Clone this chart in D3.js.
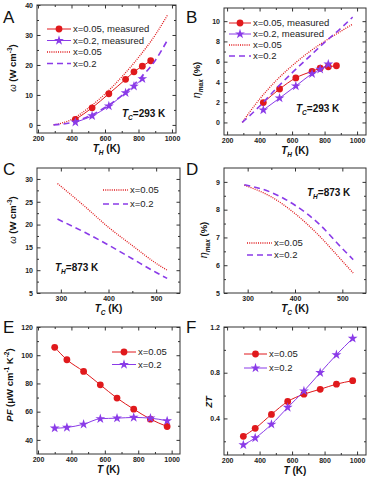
<!DOCTYPE html>
<html>
<head>
<meta charset="utf-8">
<script src="https://cdnjs.cloudflare.com/ajax/libs/d3/7.8.5/d3.min.js"></script>
<style>
  body { margin: 0; background: #fff; }
  svg { font-family: Arial, "Liberation Sans", sans-serif; }
  .tick text { font-weight: bold; font-size: 7px; fill: #222; }
</style>
</head>
<body>
<svg id="chart" width="368" height="477"></svg>
<script>
// ---- data ----
// A: power density vs hot side temp
const thMeas05 = [423, 523, 623, 723, 773, 823, 873];
const omegaMeas05 = [1.8, 5.7, 10.4, 15.2, 17.7, 19.6, 21.4];
const thMeas02 = [423, 523, 623, 723, 773, 823];
const omegaMeas02 = [0.9, 3.0, 6.3, 10.7, 12.9, 15.4];
const thCalc = [293, 400, 500, 600, 700, 800, 900, 973];
const omegaCalc05 = [0, 1.8, 5.6, 10.3, 16.0, 22.5, 30.0, 36.6];
const omegaCalc02 = [0, 0.8, 2.8, 5.8, 9.8, 15.0, 21.5, 28.3];
// B: efficiency vs hot side temp
const etaMeas05 = [1.96, 3.3, 4.4, 5.05, 5.35, 5.5, 5.6];
const etaMeas02 = [1.23, 2.4, 3.6, 4.8, 5.25, 5.75];
const etaCalc05 = [0, 2.3, 4.1, 5.6, 6.9, 8.0, 9.0, 9.7];
const etaCalc02 = [0, 1.6, 3.3, 4.9, 6.4, 7.9, 9.3, 10.4];
// C, D: vs cold side temp (TH = 873 K)
const tcCalc = [293, 350, 400, 450, 500, 523];
const omegaTc05 = [29, 24, 19.4, 15.4, 11.5, 10];
const omegaTc02 = [21.2, 18.3, 15.5, 12.5, 9.5, 8.2];
const etaTc05 = [8.88, 8.46, 7.86, 7.08, 6.15, 5.72];
const etaTc02 = [8.9, 8.62, 8.16, 7.5, 6.6, 6.2];
// E, F: PF and ZT vs T
const tProp = [300, 373, 473, 573, 673, 773, 873, 973];
const pf05 = [105.6, 96.8, 88.5, 79, 69.6, 61.8, 54.7, 49.5];
const pf02 = [48.3, 48.8, 51.1, 55, 55.4, 55.9, 55.4, 53.5];
const zt05 = [0.243, 0.313, 0.435, 0.548, 0.612, 0.655, 0.70, 0.73];
const zt02 = [0.168, 0.229, 0.348, 0.496, 0.64, 0.80, 0.957, 1.10];

const RED = "#e0191c";
const PURPLE = "#8a3be8";
const svg = d3.select("#chart");
const star = d3.symbol().type(d3.symbolStar).size(30);

function panel(o) {
  const g = svg.append("g");
  const x = d3.scaleLinear().domain(o.xd).range([o.l, o.r]);
  const y = d3.scaleLinear().domain(o.yd).range([o.b, o.t]);
  const fmtX = d3.format("d");
  const fmtY = o.yfmt || d3.format("d");

  // minor + major ticks inward on all sides
  const axes = [
    [d3.axisBottom, x, o.b, fmtX, o.xt, o.xm, true],
    [d3.axisTop, x, o.t, null, o.xt, o.xm, true],
    [d3.axisLeft, y, o.l, fmtY, o.yt, o.ym, false],
    [d3.axisRight, y, o.r, null, o.yt, o.ym, false]
  ];
  axes.forEach(([fn, sc, pos, fmt, major, minor, horiz]) => {
    const tr = horiz ? `translate(0,${pos})` : `translate(${pos},0)`;
    g.append("g").attr("transform", tr)
      .call(fn(sc).tickValues(minor).tickSize(-2).tickFormat(""))
      .call(a => a.select(".domain").remove());
    const ax = g.append("g").attr("transform", tr)
      .call(fn(sc).tickValues(major).tickSize(-3.5).tickPadding(horiz ? 3 : 4)
        .tickFormat(fmt || ""));
    ax.select(".domain").remove();
  });
  g.selectAll(".tick line").attr("stroke", "#333");
  g.append("rect").attr("x", o.l).attr("y", o.t)
    .attr("width", o.r - o.l).attr("height", o.b - o.t)
    .attr("fill", "none").attr("stroke", "#333").attr("stroke-width", 1);

  const line = d3.line().curve(d3.curveMonotoneX);
  o.series.forEach(s => {
    const pts = s.xs.map((v, i) => [x(v), y(s.ys[i])]);
    const p = g.append("path").attr("d", line(pts)).attr("fill", "none")
      .attr("stroke", s.color);
    if (s.style === "dot") p.attr("stroke-width", 1.3).attr("stroke-dasharray", "1,1.2");
    else if (s.style === "dash") p.attr("stroke-width", 1.6).attr("stroke-dasharray", "6,4");
    else p.attr("stroke-width", 1);
    if (s.marker === "circle") {
      g.selectAll(null).data(pts).join("circle")
        .attr("cx", d => d[0]).attr("cy", d => d[1]).attr("r", 3.4).attr("fill", s.color);
    } else if (s.marker === "star") {
      g.selectAll(null).data(pts).join("path").attr("d", star)
        .attr("transform", d => `translate(${d[0]},${d[1]})`).attr("fill", s.color);
    }
  });

  // legend
  o.legend.forEach((e, i) => {
    const ly = o.leg.y + i * o.leg.dy;
    const s = o.series[e.idx];
    const ln = g.append("line").attr("x1", o.leg.x).attr("x2", o.leg.x + o.leg.w)
      .attr("y1", ly).attr("y2", ly).attr("stroke", s.color);
    if (s.style === "dot") ln.attr("stroke-width", 1.3).attr("stroke-dasharray", "1,1.2");
    else if (s.style === "dash") ln.attr("stroke-width", 1.6).attr("stroke-dasharray", "6,4");
    const mx = o.leg.x + o.leg.w / 2;
    if (s.marker === "circle") g.append("circle").attr("cx", mx).attr("cy", ly).attr("r", 3.4).attr("fill", s.color);
    if (s.marker === "star") g.append("path").attr("d", star).attr("transform", `translate(${mx},${ly})`).attr("fill", s.color);
    g.append("text").attr("x", o.leg.x + o.leg.w + 2).attr("y", ly + 3.3)
      .attr("font-size", 9.5).attr("fill", "#222").text(e.label);
  });

  // panel letter
  g.append("text").attr("x", o.letter[0]).attr("y", o.letter[1])
    .attr("font-size", 17).attr("fill", "#111").text(o.name);

  // axis titles
  const xt = g.append("text").attr("x", (o.l + o.r) / 2).attr("y", o.b + 19)
    .attr("text-anchor", "middle").attr("font-size", 10).attr("font-weight", "bold").attr("fill", "#111");
  o.xlab(xt);
  const yt = g.append("text")
    .attr("transform", `translate(${o.ylx},${o.yly}) rotate(-90)`)
    .attr("text-anchor", "middle").attr("font-size", 9.5).attr("font-weight", "bold").attr("fill", "#111");
  o.ylab(yt);

  if (o.note) {
    const nt = g.append("text").attr("x", o.note[0]).attr("y", o.note[1])
      .attr("font-size", 10).attr("font-weight", "bold").attr("fill", "#111");
    nt.append("tspan").attr("font-style", "italic").text("T");
    nt.append("tspan").attr("font-size", 6.5).attr("font-style", "italic").attr("dy", 2.5).text(o.note[2]);
    nt.append("tspan").attr("dy", -2.5).text("=" + o.note[3]);
  }
}

function tLabel(sub) {
  return t => {
    t.append("tspan").attr("font-style", "italic").text("T");
    if (sub) t.append("tspan").attr("font-style", "italic").attr("font-size", 6.5).attr("dy", 2.5).text(sub);
    t.append("tspan").attr("dy", sub ? -2.5 : 0).text(" (K)");
  };
}
function omegaLabel(t) {
  t.append("tspan").attr("font-style", "italic").attr("font-weight", "normal").text("ω");
  t.append("tspan").text(" (W cm");
  t.append("tspan").attr("font-size", 6.5).attr("dy", -4).text("-3");
  t.append("tspan").attr("dy", 4).text(")");
}
function etaLabel(t) {
  t.append("tspan").attr("font-style", "italic").attr("font-weight", "normal").attr("font-size", 11).text("η");
  t.append("tspan").attr("font-style", "italic").attr("font-size", 6.5).attr("dy", 2.5).text("max");
  t.append("tspan").attr("dy", -2.5).text(" (%)");
}
function pfLabel(t) {
  t.append("tspan").attr("font-style", "italic").text("PF");
  t.append("tspan").text(" (μW cm");
  t.append("tspan").attr("font-size", 6.5).attr("dy", -4).text("-1");
  t.append("tspan").attr("dy", 4).text(" K");
  t.append("tspan").attr("font-size", 6.5).attr("dy", -4).text("-2");
  t.append("tspan").attr("dy", 4).text(")");
}

const txMajor = [200, 400, 600, 800, 1000];
const txMinor = [300, 500, 700, 900];
const legA = [
  { idx: 0, label: "x=0.05, measured" },
  { idx: 1, label: "x=0.2, measured" },
  { idx: 2, label: "x=0.05" },
  { idx: 3, label: "x=0.2" }
];

panel({
  name: "A", letter: [3, 23], l: 37, r: 176, t: 5, b: 133,
  xd: [194, 1024], yd: [-2.7, 40], xt: txMajor, xm: txMinor,
  yt: [0, 10, 20, 30, 40], ym: [5, 15, 25, 35],
  series: [
    { xs: thMeas05, ys: omegaMeas05, color: RED, marker: "circle" },
    { xs: thMeas02, ys: omegaMeas02, color: PURPLE, marker: "star" },
    { xs: thCalc, ys: omegaCalc05, color: RED, style: "dot" },
    { xs: thCalc, ys: omegaCalc02, color: PURPLE, style: "dash" }
  ],
  legend: legA, leg: { x: 47, y: 29, dy: 11.5, w: 24 },
  xlab: tLabel("H"), ylab: omegaLabel, ylx: 16, yly: 68,
  note: [122, 117, "C", "293 K"]
});

panel({
  name: "B", letter: [186, 23], l: 224, r: 366, t: 8, b: 135,
  xd: [181, 1055], yd: [-1.24, 11.3], xt: txMajor, xm: txMinor,
  yt: [0, 2, 4, 6, 8, 10], ym: [1, 3, 5, 7, 9],
  series: [
    { xs: thMeas05, ys: etaMeas05, color: RED, marker: "circle" },
    { xs: thMeas02, ys: etaMeas02, color: PURPLE, marker: "star" },
    { xs: thCalc, ys: etaCalc05, color: RED, style: "dot" },
    { xs: thCalc, ys: etaCalc02, color: PURPLE, style: "dash" }
  ],
  legend: legA, leg: { x: 229, y: 23, dy: 11, w: 22 },
  xlab: tLabel("H"), ylab: etaLabel, ylx: 200, yly: 80,
  note: [296, 112, "C", "293 K"]
});

const legCD = [{ idx: 0, label: "x=0.05" }, { idx: 1, label: "x=0.2" }];

panel({
  name: "C", letter: [3, 175], l: 37, r: 180, t: 168, b: 293,
  xd: [250, 550], yd: [5, 32.4], xt: [300, 400, 500], xm: [350, 450],
  yt: [5, 10, 15, 20, 25, 30], ym: [7.5, 12.5, 17.5, 22.5, 27.5],
  series: [
    { xs: tcCalc, ys: omegaTc05, color: RED, style: "dot" },
    { xs: tcCalc, ys: omegaTc02, color: PURPLE, style: "dash" }
  ],
  legend: legCD, leg: { x: 103, y: 190, dy: 14, w: 25 },
  xlab: tLabel("C"), ylab: omegaLabel, ylx: 16, yly: 220,
  note: [55, 271, "H", "873 K"]
});

panel({
  name: "D", letter: [186, 175], l: 224, r: 366, t: 168, b: 293,
  xd: [250, 550], yd: [5, 9.5], xt: [300, 400, 500], xm: [350, 450],
  yt: [5, 6, 7, 8, 9], ym: [5.5, 6.5, 7.5, 8.5],
  series: [
    { xs: tcCalc, ys: etaTc05, color: RED, style: "dot" },
    { xs: tcCalc, ys: etaTc02, color: PURPLE, style: "dash" }
  ],
  legend: legCD, leg: { x: 247, y: 243, dy: 12, w: 25 },
  xlab: tLabel("C"), ylab: etaLabel, ylx: 207, yly: 240,
  note: [307, 196, "H", "873 K"]
});

panel({
  name: "E", letter: [3, 333], l: 37, r: 180, t: 327, b: 454,
  xd: [194, 1050], yd: [30, 120], xt: txMajor, xm: txMinor,
  yt: [40, 60, 80, 100, 120], ym: [50, 70, 90, 110],
  series: [
    { xs: tProp, ys: pf05, color: RED, marker: "circle" },
    { xs: tProp, ys: pf02, color: PURPLE, marker: "star" }
  ],
  legend: legCD, leg: { x: 112, y: 352, dy: 12.5, w: 24 },
  xlab: tLabel(null), ylab: pfLabel, ylx: 13, yly: 385
});

panel({
  name: "F", letter: [186, 333], l: 224, r: 366, t: 327, b: 455,
  xd: [181, 1055], yd: [0.08, 1.2], xt: txMajor, xm: txMinor,
  yt: [0.4, 0.8, 1.2], ym: [0.2, 0.6, 1.0],
  yfmt: d3.format(".1f"),
  series: [
    { xs: tProp, ys: zt05, color: RED, marker: "circle" },
    { xs: tProp, ys: zt02, color: PURPLE, marker: "star" }
  ],
  legend: legCD, leg: { x: 244, y: 354, dy: 14, w: 23 },
  xlab: tLabel(null), ylab: t => t.append("tspan").attr("font-style", "italic").text("ZT"),
  ylx: 212, yly: 402
});
</script>
</body>
</html>
